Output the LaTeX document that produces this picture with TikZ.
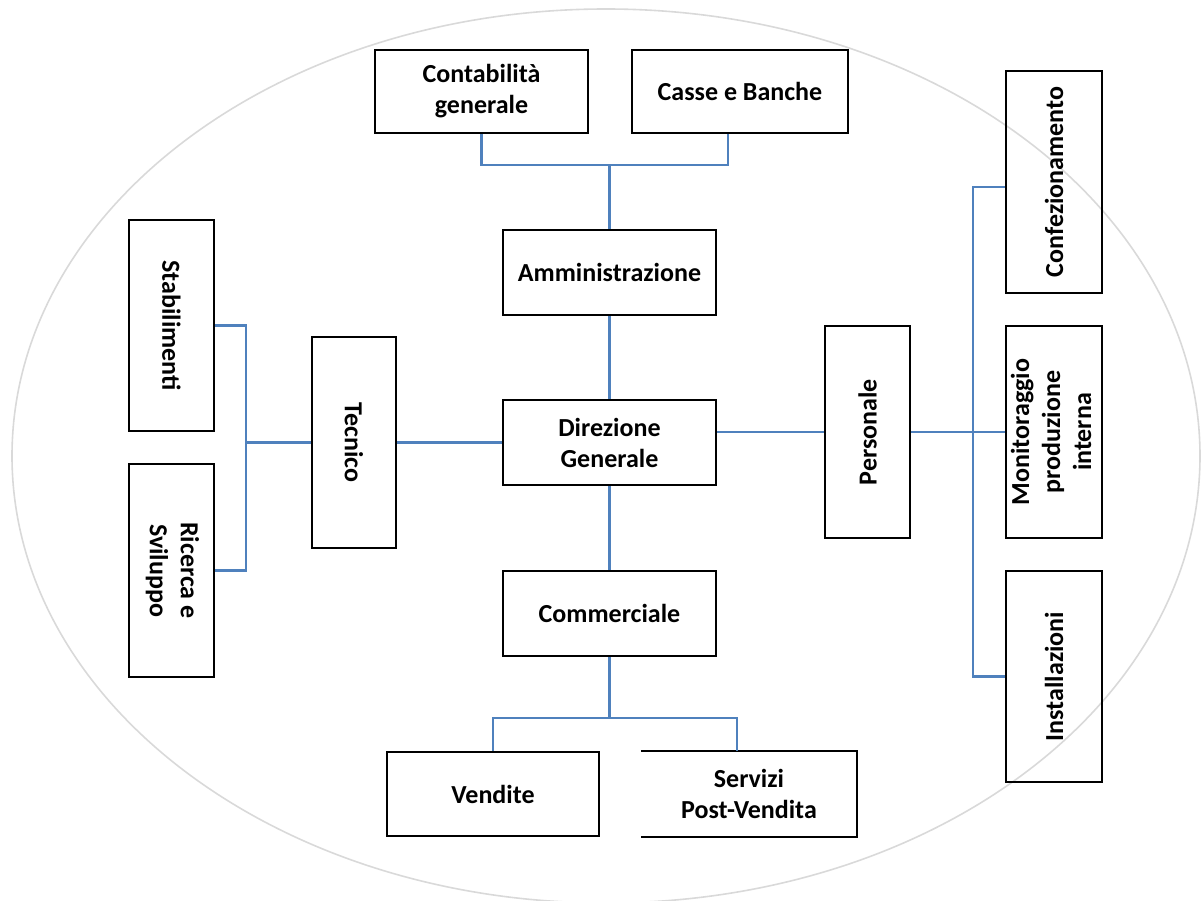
\documentclass[tikz,border=0pt]{standalone}
\usepackage{fontspec}
\usepackage{graphicx}
\setmainfont{Carlito}
\definecolor{connblue}{HTML}{4F81BD}
\definecolor{ringgrey}{HTML}{D9D9D9}
\begin{document}
\begin{tikzpicture}[x=1pt,y=-1pt,
  box/.style={draw=black, line width=2.2pt, inner sep=0pt, align=center,
    font=\bfseries\fontsize{26}{31}\selectfont},
  openbox/.style={box, draw=none},
  conn/.style={draw=connblue, line width=2.2pt},
  ring/.style={draw=ringgrey, line width=1.6pt}]
\useasboundingbox (0,0) rectangle (1202,901);
\draw[ring] (606,456) ellipse [x radius=594, y radius=447];

\node[box, minimum width=213pt, minimum height=83pt] (cont) at (481.5,91.5) {Contabilità\\generale};
\node[box, minimum width=216pt, minimum height=83pt] (casse) at (740,91.5) {Casse e Banche};
\node[box, minimum width=213pt, minimum height=85pt] (amm) at (609.5,272.5) {Amministrazione};
\node[box, minimum width=213pt, minimum height=85pt] (dir) at (609.5,442.5) {Direzione\\Generale};
\node[box, minimum width=213pt, minimum height=85pt] (comm) at (609.5,613.5) {Commerciale};
\node[box, minimum width=212pt, minimum height=84pt] (vend) at (493,794) {Vendite};
\node[openbox, minimum width=214pt, minimum height=84pt] (serv) at (749,794) {Servizi\\Post-Vendita};
\draw[line width=2.2pt] (serv.north west) -- (serv.north east) -- (serv.south east) -- (serv.south west);

\node[box, minimum width=84pt, minimum height=211pt] (tec) at (354,442.5) {\rotatebox{-90}{Tecnico}};
\node[box, minimum width=85pt, minimum height=211pt] (stab) at (171.5,325.5) {\rotatebox{-90}{Stabilimenti}};
\node[box, minimum width=85pt, minimum height=213pt] (ric) at (171.5,570.5) {\rotatebox{-90}{\begin{tabular}{@{}c@{}}Ricerca e\\Sviluppo\end{tabular}}};
\node[box, minimum width=85pt, minimum height=212pt] (pers) at (867.5,432) {\rotatebox{90}{Personale}};
\node[box, minimum width=96pt, minimum height=222pt] (conf) at (1054,182) {\rotatebox{90}{Confezionamento}};
\node[box, minimum width=96pt, minimum height=212pt] (mon) at (1054,432) {\rotatebox{90}{\begin{tabular}{@{}c@{}}Monitoraggio\\produzione\\interna\end{tabular}}};
\node[box, minimum width=96pt, minimum height=211pt] (inst) at (1054,676.5) {\rotatebox{90}{Installazioni}};

% top branch
\coordinate (jt) at (609.5,165);
\coordinate (casseB) at (728,165);
\draw[conn] (cont.south) |- (jt) -- (casseB) -- (casseB |- casse.south);
\draw[conn] (jt) -- (amm.north);
\draw[conn] (amm.south) -- (dir.north);
\draw[conn] (dir.south) -- (comm.north);
% bottom branch
\coordinate (jb) at (609.5,718);
\coordinate (servB) at (737,718);
\draw[conn] (comm.south) -- (jb);
\draw[conn] (vend.north) |- (jb) -- (servB) -- (servB |- serv.north);
% left branch
\coordinate (jl) at (246,442.5);
\draw[conn] (tec.east) -- (tec.east -| dir.west);
\draw[conn] (tec.west) -- (jl);
\draw[conn] (stab.east) -| (jl) |- (ric.east);
% right branch
\coordinate (jr) at (973,432);
\coordinate (confB) at (973,187);
\draw[conn] (pers.west -| dir.east) -- (pers.west);
\draw[conn] (pers.east) -- (mon.west);
\draw[conn] (confB -| conf.west) -- (confB) |- (inst.west);
\end{tikzpicture}
\end{document}
